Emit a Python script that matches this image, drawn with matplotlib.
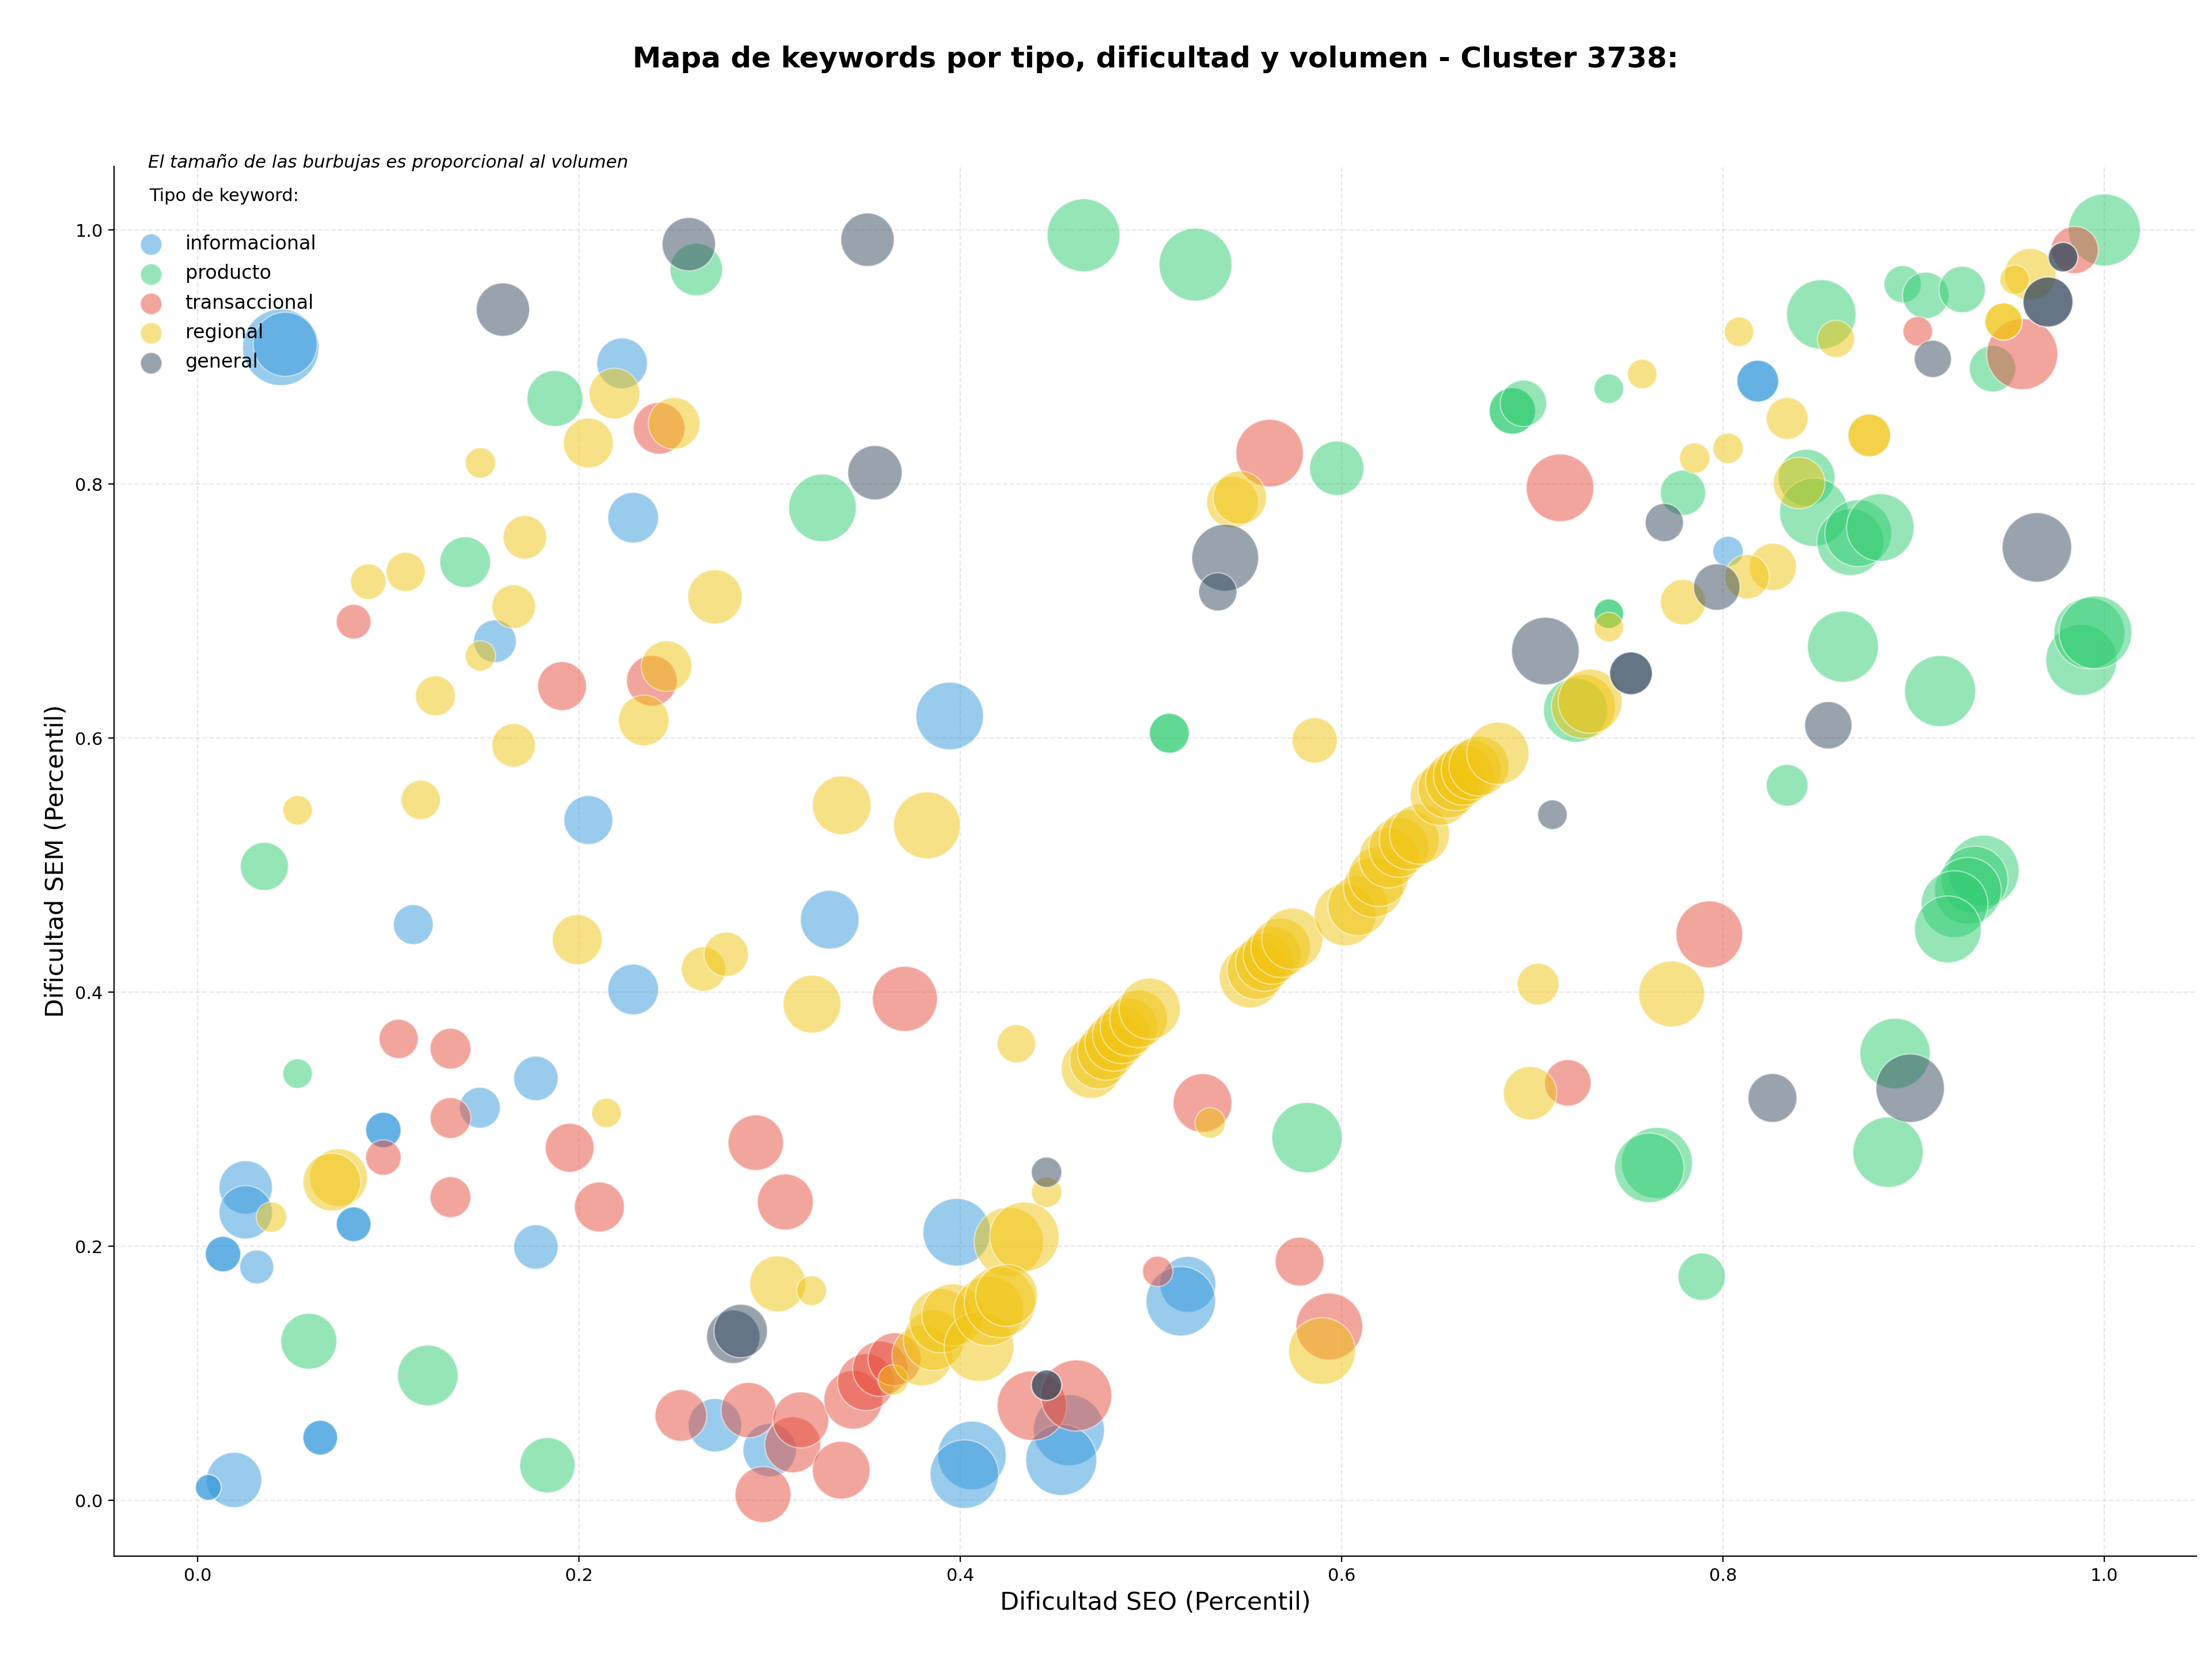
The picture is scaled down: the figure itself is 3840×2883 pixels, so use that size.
import matplotlib
matplotlib.use("Agg")
import matplotlib.pyplot as plt

plt.rcParams['font.family'] = ['DejaVu Sans']
plt.rcParams['font.size'] = 11

# ---------------- data ----------------
tipos = ["informacional", "producto", "transaccional", "regional", "general"]
colores = {"informacional": "#3498db", "producto": "#2ecc71", "transaccional": "#e74c3c",
           "regional": "#f1c40f", "general": "#34495e"}

# informacional
inf_seo = [0.0436, 0.0459, 0.2226, 0.2284, 0.1559, 0.2049, 0.3944, 0.1131, 0.2284, 0.3315,
           0.1774, 0.1480, 0.0974, 0.0974, 0.0818, 0.0818, 0.0252, 0.0252, 0.0133, 0.0133,
           0.0310, 0.1774, 0.0643, 0.0643, 0.0191, 0.0056, 0.0056, 0.2713, 0.3000, 0.3981,
           0.4061, 0.4021, 0.4569, 0.4529, 0.5193, 0.5156, 0.8026, 0.8182, 0.8182]
inf_sem = [0.9076, 0.9100, 0.8950, 0.7735, 0.6762, 0.5355, 0.6174, 0.4532, 0.4021, 0.4570,
           0.3321, 0.3090, 0.2915, 0.2915, 0.2173, 0.2173, 0.2463, 0.2267, 0.1938, 0.1938,
           0.1837, 0.1994, 0.0493, 0.0493, 0.0160, 0.0101, 0.0101, 0.0591, 0.0395, 0.2110,
           0.0353, 0.0206, 0.0552, 0.0318, 0.1700, 0.1567, 0.7469, 0.8810, 0.8810]
inf_vol = [228, 160, 100, 100, 71, 93, 178, 62, 100, 134,
           77, 65, 49, 49, 47, 47, 111, 111, 49, 49,
           45, 77, 47, 47, 119, 26, 26, 111, 111, 178,
           183, 183, 197, 197, 122, 188, 36, 68, 68]

# producto
pro_seo = [0.2615, 0.1874, 0.1403, 0.0350, 0.4646, 0.5233, 0.3277, 0.5974, 0.5096, 0.5096,
           0.0524, 0.0583, 0.1207, 0.1834, 0.5818, 1.0000, 0.8942, 0.9063, 0.9254, 0.8515,
           0.9413, 0.7401, 0.6895, 0.6895, 0.6953, 0.7790, 0.8438, 0.8476, 0.8667, 0.8709,
           0.8825, 0.7401, 0.7401, 0.7226, 0.8629, 0.9138, 0.9879, 0.9921, 0.9953, 0.8336,
           0.9366, 0.9319, 0.9284, 0.9214, 0.9179, 0.7653, 0.7613, 0.8902, 0.8865, 0.7888]
pro_sem = [0.9688, 0.8673, 0.7385, 0.4990, 0.9958, 0.9727, 0.7812, 0.8124, 0.6038, 0.6038,
           0.3359, 0.1252, 0.0983, 0.0276, 0.2855, 1.0000, 0.9573, 0.9485, 0.9531, 0.9335,
           0.8908, 0.8750, 0.8575, 0.8575, 0.8635, 0.7931, 0.8050, 0.7778, 0.7543, 0.7613,
           0.7658, 0.6979, 0.6979, 0.6220, 0.6720, 0.6370, 0.6615, 0.6825, 0.6832, 0.5628,
           0.4956, 0.4886, 0.4798, 0.4693, 0.4494, 0.2656, 0.2617, 0.3517, 0.2740, 0.1760]
pro_vol = [107, 122, 100, 90, 207, 207, 178, 115, 62, 62,
           34, 122, 143, 119, 193, 202, 54, 84, 84, 188,
           84, 34, 84, 84, 84, 80, 126, 183, 174, 174,
           178, 34, 34, 160, 197, 197, 197, 197, 207, 68,
           197, 174, 174, 174, 174, 197, 188, 193, 193, 87]

# transaccional
tra_seo = [0.2420, 0.0818, 0.1911, 0.2382, 0.5622, 0.1054, 0.1326, 0.1326, 0.0974, 0.1951,
           0.2107, 0.1326, 0.3709, 0.2927, 0.3082, 0.2534, 0.2890, 0.3121, 0.3163, 0.2965,
           0.3375, 0.3438, 0.3505, 0.3580, 0.3655, 0.4375, 0.4608, 0.5035, 0.5779, 0.5935,
           0.5270, 0.7928, 0.7186, 0.7145, 0.9021, 0.9569, 0.9844]
tra_sem = [0.8439, 0.6916, 0.6409, 0.6451, 0.8243, 0.3632, 0.3555, 0.3009, 0.2698, 0.2775,
           0.2309, 0.2386, 0.3947, 0.2815, 0.2348, 0.0668, 0.0710, 0.0437, 0.0633, 0.0045,
           0.0237, 0.0791, 0.0930, 0.1035, 0.1110, 0.0745, 0.0825, 0.1802, 0.1879, 0.1368,
           0.3128, 0.4455, 0.3286, 0.7970, 0.9202, 0.9023, 0.9842]
tra_vol = [104, 47, 93, 100, 178, 60, 65, 65, 49, 93,
           97, 65, 165, 120, 122, 104, 119, 122, 122, 122,
           130, 134, 126, 119, 110, 188, 197, 36, 93, 174,
           134, 174, 84, 178, 34, 197, 87]

# regional
reg_seo = [0.2186, 0.2499, 0.2049, 0.1483, 0.1716, 0.1091, 0.0895, 0.2713, 0.1657, 0.1483,
           0.2459, 0.1247, 0.2340, 0.1657, 0.1170, 0.0524, 0.5427, 0.5466, 0.5858, 0.3378,
           0.3825, 0.1991, 0.2653, 0.2772, 0.3222, 0.4294, 0.2144, 0.0739, 0.0704, 0.0387,
           0.3042, 0.3220, 0.4452, 0.4254, 0.4336,
           0.3648, 0.3800, 0.3860, 0.3900, 0.3960, 0.4098, 0.4149, 0.4207, 0.4242,
           0.5310, 0.5897,
           0.4685, 0.4725, 0.4765, 0.4805, 0.4845, 0.4885, 0.4935, 0.4993,
           0.5518, 0.5555, 0.5595, 0.5635, 0.5680, 0.5741,
           0.6018, 0.6085, 0.6166, 0.6193, 0.6248, 0.6300, 0.6354, 0.6408,
           0.6517, 0.6557, 0.6597, 0.6638, 0.6679, 0.6720, 0.6819,
           0.8084, 0.8592, 0.9611, 0.9529, 0.9471, 0.9471, 0.7576, 0.8336, 0.8767, 0.8767,
           0.7851, 0.8026, 0.8399, 0.8261, 0.8126, 0.7790, 0.7401, 0.7268, 0.7303, 0.7030,
           0.6988, 0.7730]
reg_sem = [0.8712, 0.8477, 0.8323, 0.8166, 0.7581, 0.7308, 0.7231, 0.7112, 0.7035, 0.6647,
           0.6566, 0.6332, 0.6139, 0.5943, 0.5513, 0.5432, 0.7858, 0.7893, 0.5982, 0.5471,
           0.5313, 0.4413, 0.4182, 0.4298, 0.3906, 0.3594, 0.3049, 0.2540, 0.2505, 0.2229,
           0.1704, 0.1650, 0.2425, 0.2033, 0.2075,
           0.0948, 0.1140, 0.1260, 0.1413, 0.1460, 0.1210, 0.1490, 0.1560, 0.1613,
           0.2971, 0.1175,
           0.3398, 0.3465, 0.3535, 0.3605, 0.3665, 0.3725, 0.3790, 0.3870,
           0.4117, 0.4175, 0.4235, 0.4290, 0.4350, 0.4420,
           0.4608, 0.4680, 0.4825, 0.4910, 0.5057, 0.5140, 0.5200, 0.5244,
           0.5548, 0.5605, 0.5664, 0.5707, 0.5750, 0.5780, 0.5880,
           0.9198, 0.9142, 0.9650, 0.9608, 0.9279, 0.9279, 0.8866, 0.8516, 0.8383, 0.8383,
           0.8204, 0.8281, 0.8008, 0.7347, 0.7270, 0.7070, 0.6874, 0.6248, 0.6290, 0.4063,
           0.3205, 0.3986]
reg_vol = [100, 104, 97, 36, 74, 60, 49, 115, 74, 36,
           100, 62, 100, 74, 60, 34, 104, 111, 80, 134,
           174, 97, 77, 77, 130, 57, 34, 130, 130, 36,
           122, 35, 36, 188, 188,
           36, 143, 143, 160, 150, 190, 190, 197, 150,
           36, 174,
           138, 130, 130, 130, 130, 130, 130, 146,
           146, 138, 130, 130, 138, 146,
           149, 140, 140, 140, 140, 140, 140, 140,
           140, 140, 140, 140, 140, 140, 151,
           34, 54, 104, 34, 54, 54, 34, 68, 71, 71,
           36, 36, 104, 87, 77, 80, 34, 160, 160, 68,
           111, 169]

# general
gen_seo = [0.2576, 0.1601, 0.3513, 0.3552, 0.5389, 0.5350, 0.2809, 0.2848, 0.4452, 0.4452,
           0.4452, 0.9783, 0.9783, 0.9704, 0.9704, 0.9100, 0.7692, 0.9646, 0.7967, 0.7068,
           0.7517, 0.7517, 0.7105, 0.8552, 0.8259, 0.8981]
gen_sem = [0.9888, 0.9373, 0.9923, 0.8089, 0.7420, 0.7151, 0.1287, 0.1333, 0.2582, 0.0906,
           0.0906, 0.9786, 0.9786, 0.9433, 0.9433, 0.8985, 0.7697, 0.7501, 0.7189, 0.6685,
           0.6510, 0.6510, 0.5397, 0.6101, 0.3167, 0.3244]
gen_vol = [111, 111, 111, 115, 174, 57, 111, 111, 36, 36,
           36, 34, 34, 97, 97, 54, 57, 188, 84, 178,
           71, 71, 34, 87, 93, 183]

datos = {
    "informacional": (inf_seo, inf_sem, inf_vol),
    "producto": (pro_seo, pro_sem, pro_vol),
    "transaccional": (tra_seo, tra_sem, tra_vol),
    "regional": (reg_seo, reg_sem, reg_vol),
    "general": (gen_seo, gen_sem, gen_vol),
}

titulo = "Mapa de keywords por tipo, dificultad y volumen - Cluster 3738:"
nota = "El tamaño de las burbujas es proporcional al volumen"

# ---------------- figure ----------------
fig = plt.figure(figsize=(19.2, 14.415), dpi=200)
ax = fig.add_axes([0.0516, 0.0631, 0.9414, 0.8367])
ax.set_axisbelow(True)

escala = 10.0
for t in tipos:
    xs, ys, vs = datos[t]
    ax.scatter(xs, ys, s=[v * escala for v in vs], c=colores[t], alpha=0.5,
               edgecolors='white', linewidths=0.8, zorder=2)

for t in tipos:
    ax.scatter([], [], s=180, c=colores[t], alpha=0.5, edgecolors='white',
               linewidths=0.8, label=t)

ax.set_xlim(-0.0438, 1.0483)
ax.set_ylim(-0.044, 1.050)
ax.set_xticks([0.0, 0.2, 0.4, 0.6, 0.8, 1.0])
ax.set_yticks([0.0, 0.2, 0.4, 0.6, 0.8, 1.0])
ax.tick_params(labelsize=11)
ax.grid(True, linestyle='--', alpha=0.3)
ax.spines['top'].set_visible(False)
ax.spines['right'].set_visible(False)

ax.set_xlabel("Dificultad SEO (Percentil)", fontsize=15.5)
ax.set_ylabel("Dificultad SEM (Percentil)", fontsize=15.5)
ax.set_title(titulo, fontsize=18, fontweight='bold', pad=62)

ax.text(0.0163, 1.003, nota, transform=ax.transAxes, fontsize=11.1,
        style='italic', va='center', ha='left')

ax.legend(loc='upper left', bbox_to_anchor=(-0.002, 1.0),
          title="Tipo de keyword:\n", fontsize=12,
          title_fontsize=11, frameon=False, borderaxespad=0.72,
          labelspacing=0.55)

fig.savefig("out.png", dpi=200)
